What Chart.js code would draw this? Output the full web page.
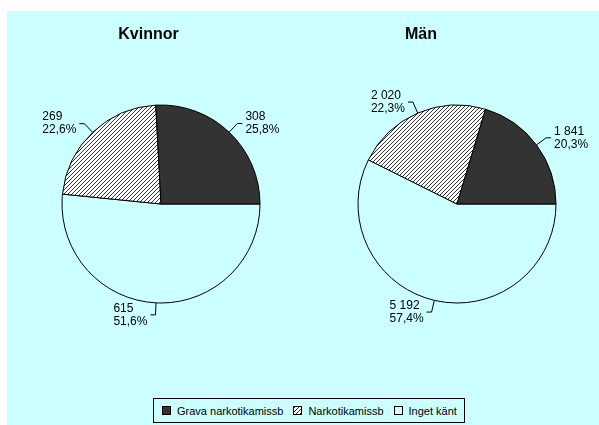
<!DOCTYPE html>
<html>
<head>
<meta charset="utf-8">
<script src="https://cdn.jsdelivr.net/npm/chart.js@4.4.0/dist/chart.umd.min.js"></script>
<style>
  body { margin: 0; background: #fff; font-family: Arial, "Liberation Sans", sans-serif; }
  #panel { position: absolute; left: 7px; top: 11px; width: 592px; height: 414px; background: #ccffff; }
  #panel canvas { position: absolute; top: 0; }
  .title { position: absolute; top: 15px; width: 200px; text-align: center; font-weight: bold; font-size: 16px; line-height: 16px; }
  #legend { position: absolute; left: 146px; top: 387px; width: 312px; height: 25px; box-sizing: border-box;
            border: 1px solid #000; display: flex; align-items: center; padding-left: 8px; font-size: 11px;
            white-space: nowrap; }
  #legend .item { display: flex; align-items: center; flex: none; margin-right: 10px; }
  #legend .box { width: 9px; height: 9px; box-sizing: border-box; border: 1px solid #000; margin-right: 6px; flex: none; }
</style>
</head>
<body>
<div id="panel">
  <canvas id="pieKvinnor" width="293" height="387" style="left:0"></canvas>
  <canvas id="pieMan" width="299" height="387" style="left:293px"></canvas>
  <div class="title" id="titleKvinnor" style="left:41.5px"></div>
  <div class="title" id="titleMan" style="left:314px"></div>
  <div id="legend"></div>
</div>
<script>
const categories = ["Grava narkotikamissb", "Narkotikamissb", "Inget känt"];
const kvinnor = [308, 269, 615];
const man = [1841, 2020, 5192];
const titles = ["Kvinnor", "Män"];

// diagonal hatch for the middle category
function hatchPattern() {
  const c = document.createElement("canvas");
  c.width = 4;
  c.height = 4;
  const g = c.getContext("2d");
  g.fillStyle = "#ffffff";
  g.fillRect(0, 0, 4, 4);
  g.strokeStyle = "#333333";
  g.lineWidth = 1;
  g.beginPath();
  g.moveTo(-1, 5); g.lineTo(5, -1);
  g.moveTo(-1, 1); g.lineTo(1, -1);
  g.moveTo(3, 5); g.lineTo(5, 3);
  g.stroke();
  return g.createPattern(c, "repeat");
}

// last category has no fill, the panel shows through
const fills = ["#333333", hatchPattern(), "rgba(0,0,0,0)"];

const fmtValue = (v) => String(v).replace(/\B(?=(\d{3})+(?!\d))/g, " ");
const fmtPct = (v, total) => (v / total * 100).toFixed(1).replace(".", ",") + "%";

// value + share labels outside each slice, with a bent leader line
const sliceLabels = {
  id: "sliceLabels",
  afterDatasetsDraw(chart) {
    const ctx = chart.ctx;
    const ds = chart.data.datasets[0];
    const total = ds.data.reduce((a, b) => a + b, 0);
    ctx.save();
    ctx.font = '12px Arial, "Liberation Sans", sans-serif';
    ctx.fillStyle = "#000";
    ctx.strokeStyle = "#000";
    ctx.lineWidth = 1;
    ctx.textAlign = "left";
    ctx.textBaseline = "middle";
    chart.getDatasetMeta(0).data.forEach((arc, i) => {
      const { x, y, startAngle, endAngle, outerRadius } =
        arc.getProps(["x", "y", "startAngle", "endAngle", "outerRadius"], true);
      const mid = (startAngle + endAngle) / 2;
      const cos = Math.cos(mid), sin = Math.sin(mid);
      const x0 = x + cos * outerRadius, y0 = y + sin * outerRadius;
      const x1 = x + cos * (outerRadius + 12), y1 = y + sin * (outerRadius + 12);
      const side = cos >= 0 ? 1 : -1;
      const x2 = x1 + side * 5;
      ctx.beginPath();
      ctx.moveTo(x0, y0);
      ctx.lineTo(x1, y1);
      ctx.lineTo(x2, y1);
      ctx.stroke();
      const lines = [fmtValue(ds.data[i]), fmtPct(ds.data[i], total)];
      const w = Math.max(...lines.map((t) => ctx.measureText(t).width));
      const tx = side > 0 ? x2 + 3 : x2 - 3 - w;
      ctx.fillText(lines[0], tx, y1 - 6.5);
      ctx.fillText(lines[1], tx, y1 + 6.5);
    });
    ctx.restore();
  },
};

function makePie(id, values, padding) {
  // slices are drawn clockwise from 3 o'clock, so feed them in reverse
  return new Chart(document.getElementById(id), {
    type: "pie",
    data: {
      labels: categories.slice().reverse(),
      datasets: [{
        data: values.slice().reverse(),
        backgroundColor: fills.slice().reverse(),
        borderColor: "#000000",
        borderWidth: 1,
        hoverOffset: 0,
      }],
    },
    options: {
      responsive: false,
      animation: false,
      rotation: 90,
      radius: 99,
      layout: { padding },
      plugins: {
        legend: { display: false },
        tooltip: { enabled: false },
      },
    },
    plugins: [sliceLabels],
  });
}

makePie("pieKvinnor", kvinnor, { left: 44, right: 29, top: 83, bottom: 84 });
makePie("pieMan", man, { left: 47, right: 32, top: 83, bottom: 84 });

document.getElementById("titleKvinnor").textContent = titles[0];
document.getElementById("titleMan").textContent = titles[1];

// shared legend under both pies
const swatches = [
  "background:#333333",
  "background:repeating-linear-gradient(135deg,#333 0 1px,#fff 1px 3px)",
  "background:transparent",
];
const legend = document.getElementById("legend");
categories.forEach((name, i) => {
  const item = document.createElement("div");
  item.className = "item";
  const box = document.createElement("span");
  box.className = "box";
  box.style.cssText = swatches[i];
  const label = document.createElement("span");
  label.textContent = name;
  item.append(box, label);
  legend.append(item);
});
</script>
</body>
</html>
